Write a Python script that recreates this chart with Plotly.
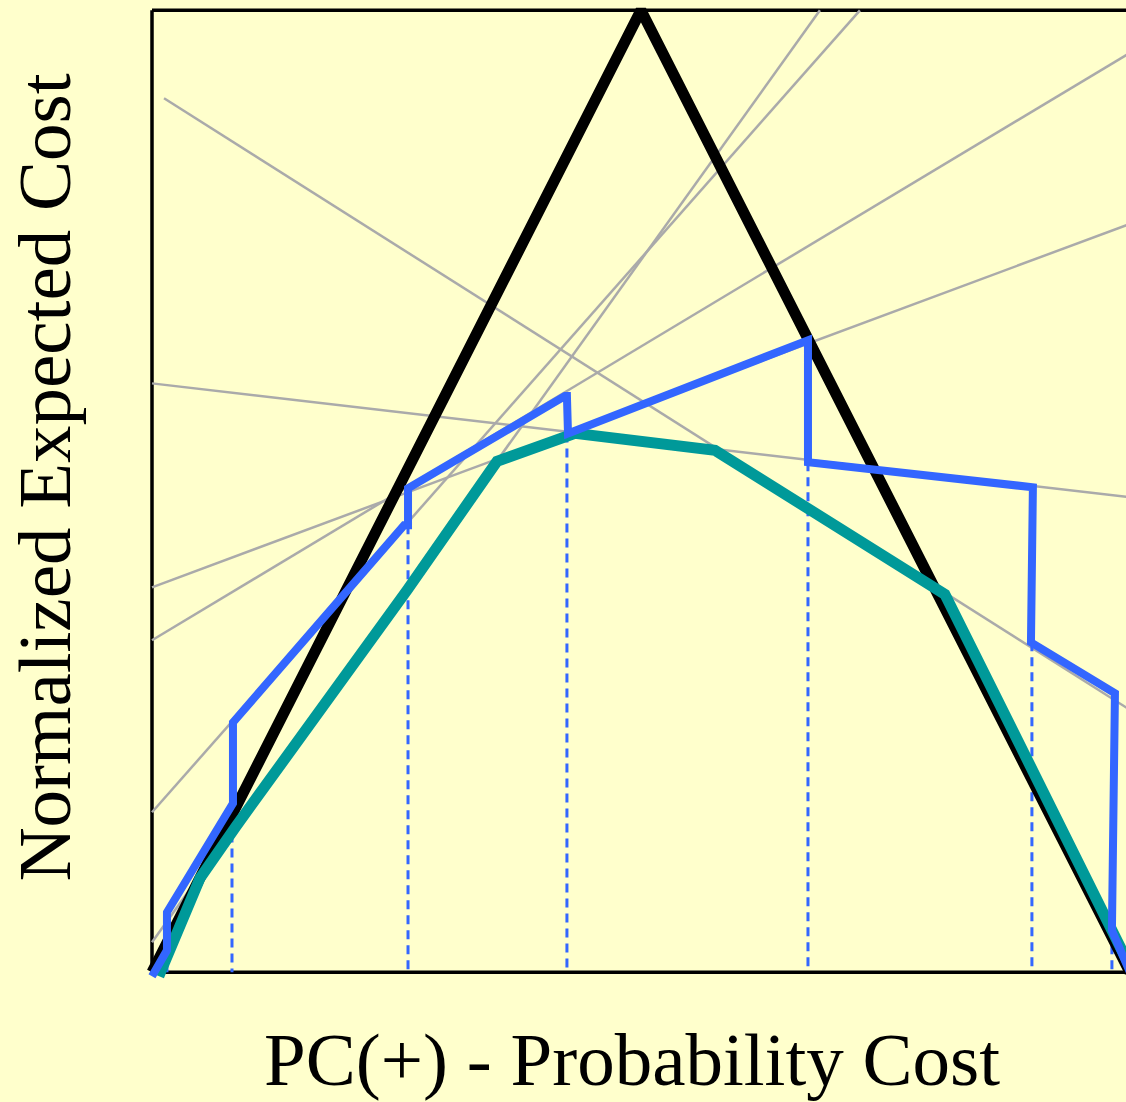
import plotly.graph_objects as go

# ---- data (PC(+) on x, normalized expected cost on y) ----
# trivial classifiers (black triangle)
black_x = [0.0, 0.5, 1.0]
black_y = [0.0, 0.5, 0.0]

# individual classifier cost lines (grey)
gray_x0 = [0.0123, 0.0, 0.0, 0.0, 0.0, 0.0]
gray_y0 = [0.4543, 0.3061, 0.2001, 0.1726, 0.0832, 0.0156]
gray_x1 = [1.0, 1.0, 1.0, 1.0, 0.7239, 0.6830]
gray_y1 = [0.1364, 0.2469, 0.3890, 0.4779, 0.5, 0.5]

# lower envelope (teal)
teal_x = [0.007, 0.0491, 0.0859, 0.2607, 0.3528, 0.4325, 0.5757, 0.8108, 0.8978, 0.9826, 1.0]
teal_y = [-0.002, 0.0489, 0.0759, 0.1985, 0.2656, 0.2801, 0.2713, 0.1965, 0.1076, 0.0218, 0.003]

# selected-threshold curve (blue)
blue_x = [0.0, 0.0153, 0.0153, 0.0828, 0.0828, 0.2577, 0.2618, 0.2618, 0.4223, 0.4243,
          0.4254, 0.6708, 0.6708, 0.9008, 0.8988, 0.9847, 0.9816, 1.0]
blue_y = [-0.0021, 0.0114, 0.0312, 0.0878, 0.1299, 0.2323, 0.2323, 0.2516, 0.2995, 0.2995,
          0.2801, 0.3285, 0.2651, 0.2521, 0.1715, 0.1450, 0.0218, 0.0]

# dashed vertical markers at the switch points
dash_x = [0.0153, 0.0818, 0.2618, 0.4243, 0.6708, 0.8998, 0.9816]
dash_top = [0.0114, 0.0878, 0.2323, 0.2801, 0.2651, 0.1715, 0.0218]

x_title = "PC(+) - Probability Cost"
y_title = "Normalized Expected Cost"

BG = "#FFFFCC"
FONT = "Liberation Serif, Times New Roman, serif"

fig = go.Figure()

# grey lines
gx, gy = [], []
for a, b, c, d in zip(gray_x0, gray_y0, gray_x1, gray_y1):
    gx += [a, c, None]
    gy += [b, d, None]
fig.add_trace(go.Scatter(x=gx, y=gy, mode="lines",
                         line=dict(color="#AAAAAA", width=2.5), hoverinfo="skip"))

# dashed verticals
dx, dy = [], []
for x, t in zip(dash_x, dash_top):
    dx += [x, x, None]
    dy += [t, 0, None]
fig.add_trace(go.Scatter(x=dx, y=dy, mode="lines",
                         line=dict(color="#3366FF", width=3, dash="9px,6px"), hoverinfo="skip"))

fig.add_trace(go.Scatter(x=black_x, y=black_y, mode="lines",
                         line=dict(color="black", width=11), hoverinfo="skip"))
fig.add_trace(go.Scatter(x=teal_x, y=teal_y, mode="lines",
                         line=dict(color="#009999", width=11), hoverinfo="skip"))
fig.add_trace(go.Scatter(x=blue_x, y=blue_y, mode="lines",
                         line=dict(color="#3366FF", width=8), hoverinfo="skip"))

# frame (left, bottom, top)
for x0, y0, x1, y1 in [(0, 0, 0, 0.5), (0, 0, 1, 0), (0, 0.5, 1, 0.5)]:
    fig.add_shape(type="line", xref="x", yref="y", x0=x0, y0=y0, x1=x1, y1=y1,
                  line=dict(color="black", width=3.5), layer="below")

fig.add_annotation(text=x_title, xref="paper", yref="paper", x=0.495, y=-0.081,
                   xanchor="center", yanchor="middle", showarrow=False,
                   font=dict(family=FONT, size=75, color="black"))
fig.add_annotation(text=y_title, xref="paper", yref="paper", x=-0.105, y=0.515,
                   xanchor="center", yanchor="middle", showarrow=False, textangle=-90,
                   font=dict(family=FONT, size=75, color="black"))

fig.update_layout(
    width=1126, height=1102,
    margin=dict(l=147, r=0, t=4, b=122),
    paper_bgcolor=BG, plot_bgcolor=BG,
    showlegend=False,
    xaxis=dict(range=[-0.00511, 0.996], showgrid=False, zeroline=False,
               showticklabels=False, ticks="", showline=False),
    yaxis=dict(range=[-0.004, 0.50328], showgrid=False, zeroline=False,
               showticklabels=False, ticks="", showline=False),
)

fig.write_html("out.html")
